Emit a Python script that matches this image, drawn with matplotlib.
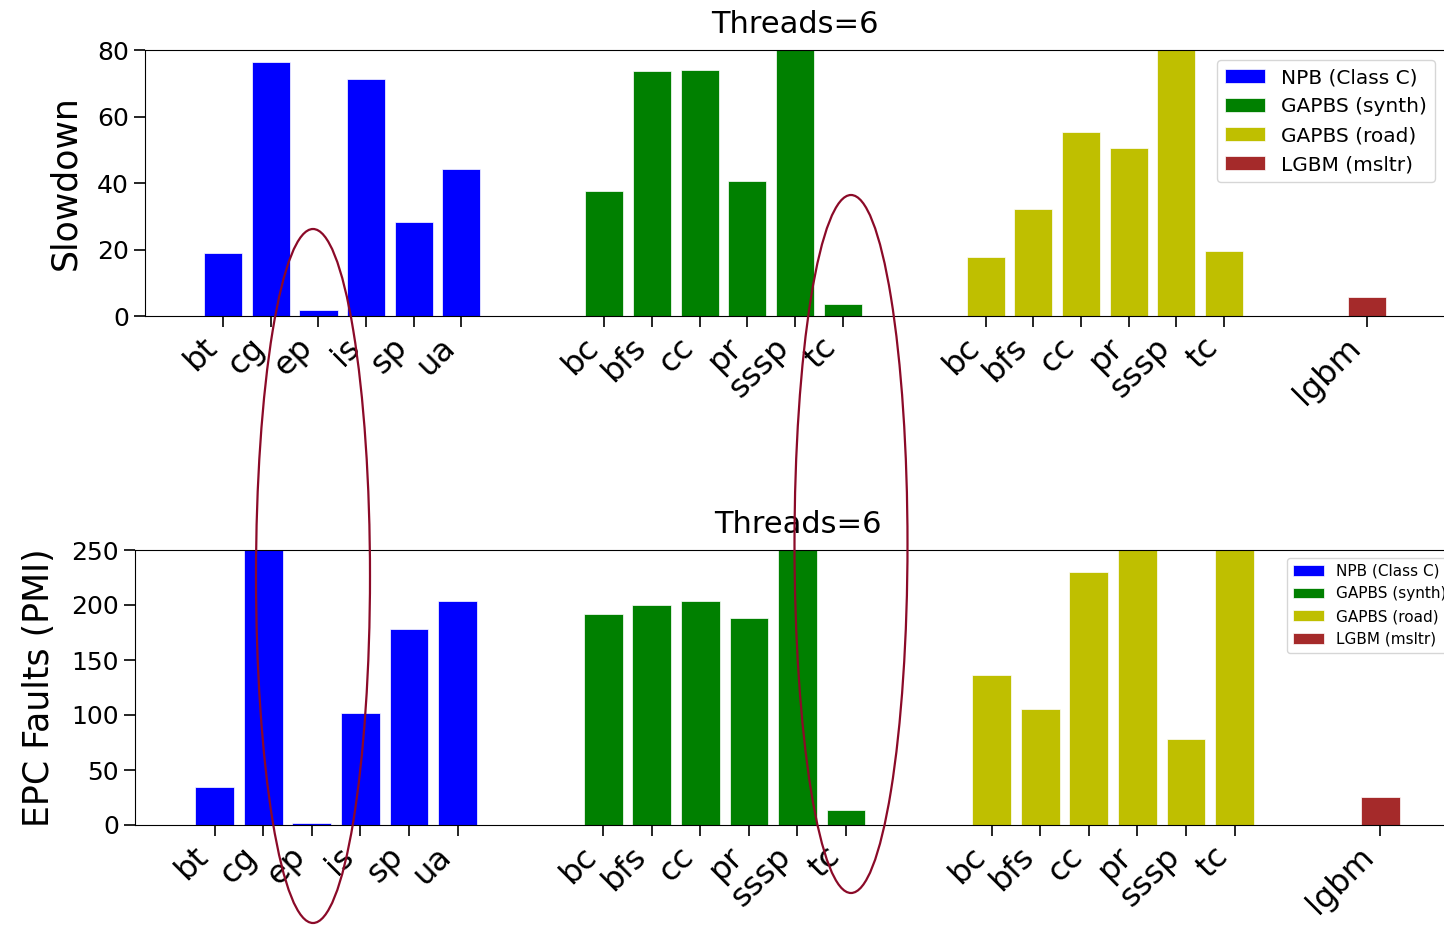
import numpy as np
import matplotlib
matplotlib.use("Agg")
import matplotlib.pyplot as plt
from matplotlib.patches import Ellipse

# benchmark names per suite
npb_names = ["bt", "cg", "ep", "is", "sp", "ua"]
synth_names = ["bc", "bfs", "cc", "pr", "sssp", "tc"]
road_names = ["bc", "bfs", "cc", "pr", "sssp", "tc"]
lgbm_names = ["lgbm"]

# slowdown (top)
npb_slow = [18.9, 76.4, 1.8, 71.3, 28.3, 44.2]
synth_slow = [37.6, 73.7, 74.0, 40.6, 95.0, 3.6]
road_slow = [17.7, 32.2, 55.3, 50.5, 95.0, 19.5]
lgbm_slow = [5.7]

# EPC faults (bottom)
npb_epc = [34.5, 290.0, 2.0, 101.8, 178.0, 203.6]
synth_epc = [191.8, 200.0, 203.6, 188.0, 290.0, 13.6]
road_epc = [136.0, 105.5, 230.0, 290.0, 78.0, 290.0]
lgbm_epc = [25.5]

labels = ["NPB (Class C)", "GAPBS (synth)", "GAPBS (road)", "LGBM (msltr)"]
colors = ["b", "g", "y", "brown"]

W, H = 1444, 925
fig = plt.figure(figsize=(W / 100, H / 100), dpi=100)


def draw(ax, groups, ylim, yticks, ylabel, legend_size):
    pos = 0
    ticks, names = [], []
    for (vals, nm), col, lab in zip(groups, colors, labels):
        x = np.arange(pos, pos + len(vals))
        ax.bar(x, vals, width=0.8, color=col, edgecolor="white", linewidth=0.5, label=lab)
        ticks += list(x)
        names += nm
        pos += len(vals) + 2
    ax.set_xticks(ticks)
    ax.set_xticklabels(names, rotation=45, ha="right", fontsize=23)
    ax.tick_params(axis="x", length=8, width=1.2)
    ax.tick_params(axis="y", labelsize=18, length=8, width=1.2)
    ax.set_ylim(*ylim)
    ax.set_yticks(yticks)
    ax.set_ylabel(ylabel, fontsize=25, labelpad=11)
    ax.set_title("Threads=6", fontsize=22, pad=12)
    ax.legend(loc="upper right", fontsize=legend_size)


ax1 = fig.add_axes([145 / W, 1 - 316 / H, 1300 / W, 266 / H])
draw(ax1, [(npb_slow, npb_names), (synth_slow, synth_names),
           (road_slow, road_names), (lgbm_slow, lgbm_names)],
     (0, 80), [0, 20, 40, 60, 80], "Slowdown", 14.5)

ax2 = fig.add_axes([135 / W, 1 - 825 / H, 1325 / W, 275 / H])
draw(ax2, [(npb_epc, npb_names), (synth_epc, synth_names),
           (road_epc, road_names), (lgbm_epc, lgbm_names)],
     (0, 250), [0, 50, 100, 150, 200, 250], "EPC Faults (PMI)", 11)

# highlight ellipses spanning both panels
for cx, cy, ew, eh in [(313, 576, 114, 694), (851, 544, 113, 698)]:
    e = Ellipse((cx / W, 1 - cy / H), ew / W, eh / H, transform=fig.transFigure,
                fill=False, edgecolor="#8b0a28", linewidth=1.6, clip_on=False)
    fig.add_artist(e)

fig.savefig("out.png", dpi=100)
